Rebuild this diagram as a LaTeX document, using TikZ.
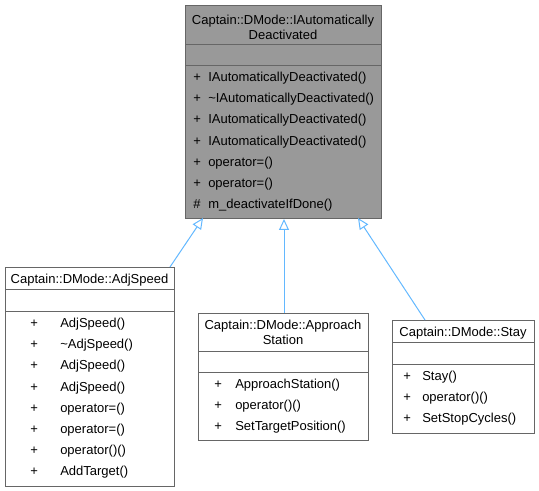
\documentclass[tikz,border=0pt]{standalone}
\usepackage{fontspec}
\setmainfont{Liberation Sans}
\usetikzlibrary{arrows.meta}
\definecolor{bordergray}{HTML}{666666}
\definecolor{topfill}{HTML}{999999}
\definecolor{edgeblue}{HTML}{63B8FF}
\begin{document}
\begin{tikzpicture}[x=0.75pt,y=-0.75pt,
  every node/.style={font=\fontsize{9.75}{11.7}\selectfont, inner sep=0pt, text=black},
  classbox/.style={draw=bordergray, line width=0.75pt, rectangle, anchor=north west, inner sep=0pt},
  sep/.style={draw=bordergray, line width=0.75pt},
  inherit/.style={draw=edgeblue, line width=0.75pt, -{Triangle[length=8.25pt,width=7.5pt,fill=white]}},
  lbl/.style={anchor=base west},
  ttl/.style={anchor=base}
]
\useasboundingbox (0,0) rectangle (539,491);

% ---------- top class ----------
\node[classbox, fill=topfill, minimum width=147pt, minimum height=159.75pt] (top) at (185,5) {};
\draw[sep] (185,45) -- (381,45);
\draw[sep] (185,66) -- (381,66);
\node[ttl] (topt1) at (283,25) {Captain::DMode::IAutomatically};
\node[ttl] (topt2) at (283,39.5) {Deactivated};
\foreach \v/\n [count=\i from 0] in {+/IAutomaticallyDeactivated(), +/\textasciitilde IAutomaticallyDeactivated(), +/IAutomaticallyDeactivated(), +/IAutomaticallyDeactivated(), +/operator=(), +/operator=(), \#/m\_deactivateIfDone()}{
  \node[lbl] (topv\i) at (193,81.5+21.2*\i) {\v};
  \node[lbl] (topm\i) at (208,81.5+21.2*\i) {\n};
}

% ---------- AdjSpeed ----------
\node[classbox, fill=white, minimum width=126.75pt, minimum height=164.25pt] (adj) at (5,267) {};
\draw[sep] (5,290) -- (174,290);
\draw[sep] (5,312) -- (174,312);
\node[ttl] (adjt) at (89.5,284) {Captain::DMode::AdjSpeed};
\foreach \n [count=\i from 0] in {AdjSpeed(), \textasciitilde AdjSpeed(), AdjSpeed(), AdjSpeed(), operator=(), operator=(), operator()(), AddTarget()}{
  \node[lbl] (adjv\i) at (30,327.5+21.2*\i) {+};
  \node[lbl] (adjm\i) at (60,327.5+21.2*\i) {\n};
}

% ---------- ApproachStation ----------
\node[classbox, fill=white, minimum width=127.5pt, minimum height=95.25pt] (app) at (198,313) {};
\draw[sep] (198,352) -- (368,352);
\draw[sep] (198,373) -- (368,373);
\node[ttl] (appt1) at (283,330) {Captain::DMode::Approach};
\node[ttl] (appt2) at (283,345) {Station};
\foreach \n [count=\i from 0] in {ApproachStation(), operator()(), SetTargetPosition()}{
  \node[lbl] (appv\i) at (214,388.5+21.2*\i) {+};
  \node[lbl] (appm\i) at (235,388.5+21.2*\i) {\n};
}

% ---------- Stay ----------
\node[classbox, fill=white, minimum width=106.5pt, minimum height=84.75pt] (stay) at (392,320) {};
\draw[sep] (392,343) -- (534,343);
\draw[sep] (392,365) -- (534,365);
\node[ttl] (stayt) at (463,337) {Captain::DMode::Stay};
\foreach \n [count=\i from 0] in {Stay(), operator()(), SetStopCycles()}{
  \node[lbl] (stayv\i) at (403,380.5+21.2*\i) {+};
  \node[lbl] (staym\i) at (422,380.5+21.2*\i) {\n};
}

% ---------- inheritance edges ----------
\coordinate (p1) at (203,218);
\coordinate (p3) at (358,218);
\coordinate (c1) at (170,267);
\coordinate (c3) at (425,320);
\draw[inherit] (c1) -- (p1);
\draw[inherit] ([xshift=0.375pt]app.north) -- ([xshift=0.375pt]top.south);
\draw[inherit] (c3) -- (p3);
\end{tikzpicture}
\end{document}
